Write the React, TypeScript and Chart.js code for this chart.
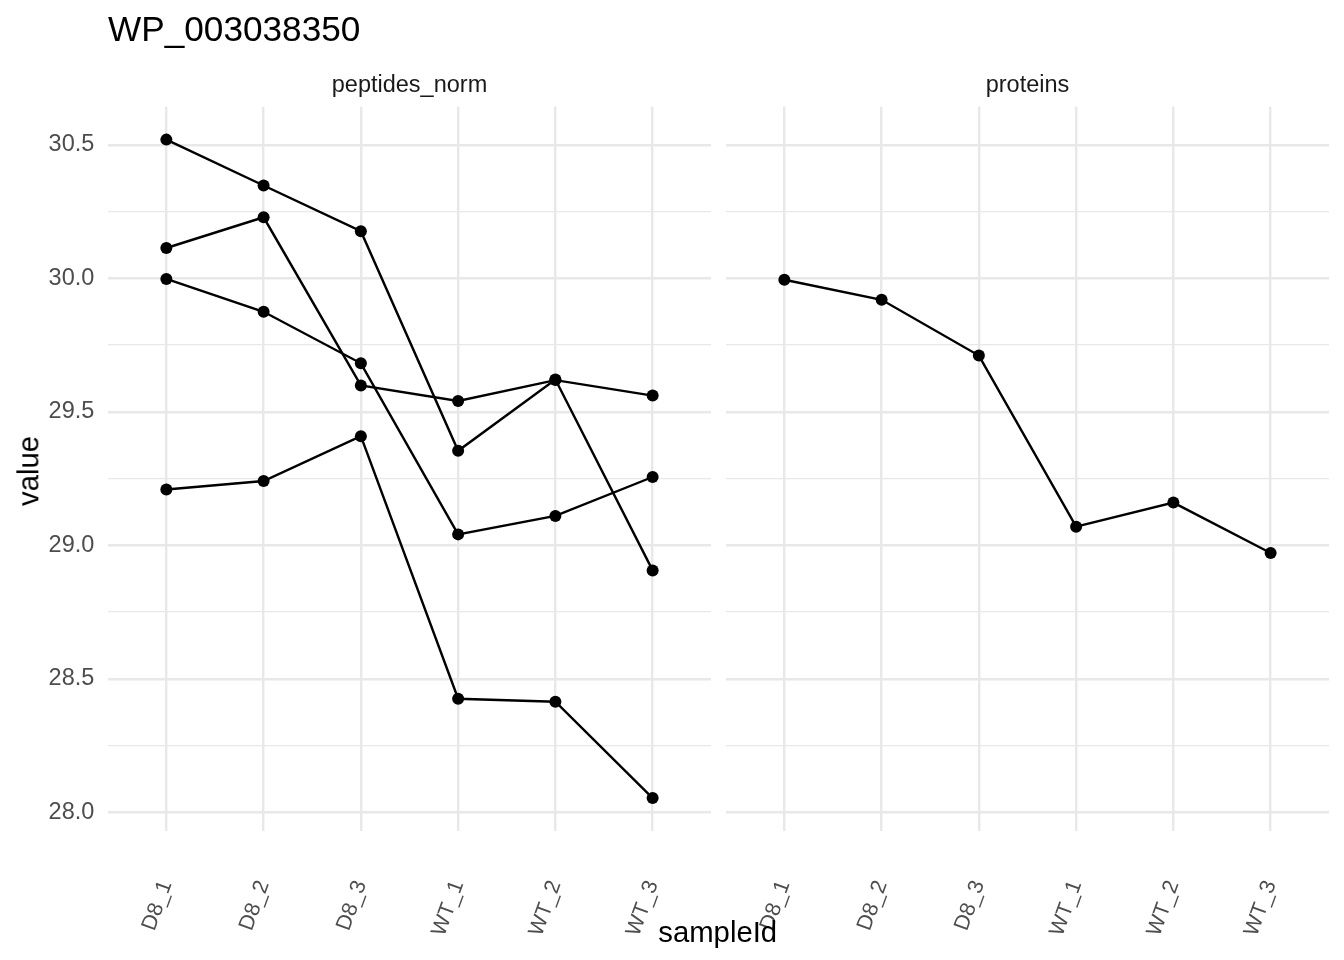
import React, { useEffect, useRef } from "react";
import { Chart, registerables } from "chart.js";

Chart.register(...registerables);

const FONT = "'Liberation Sans', Arial, Helvetica, sans-serif";

const plotTitle = "WP_003038350";
const panelNames = ["peptides_norm", "proteins"];
const samples = ["D8_1", "D8_2", "D8_3", "WT_1", "WT_2", "WT_3"];

// peptides_norm panel: four peptide traces
const peptideA = [30.52, 30.348, 30.177, 29.354, 29.621, 28.906];
const peptideB = [30.114, 30.229, 29.599, 29.541, 29.619, 29.561];
const peptideC = [29.998, 29.875, 29.682, 29.041, 29.11, 29.256];
const peptideD = [29.209, 29.241, 29.409, 28.425, 28.414, 28.053];

// proteins panel
const proteinValues = [29.995, 29.92, 29.711, 29.07, 29.16, 28.971];

const yTickValues = [28, 28.25, 28.5, 28.75, 29, 29.25, 29.5, 29.75, 30, 30.25, 30.5];
const yAxisTitle = "value";
const xAxisTitle = "sampleId";

const allValues = [...peptideA, ...peptideB, ...peptideC, ...peptideD, ...proteinValues];
const dataMin = Math.min(...allValues);
const dataMax = Math.max(...allValues);
const yPad = (dataMax - dataMin) * 0.05;
const Y_MIN = dataMin - yPad;
const Y_MAX = dataMax + yPad;

const isMajor = (v: number) => Math.abs(v * 2 - Math.round(v * 2)) < 1e-6;

function makeConfig(series: number[][], showY: boolean, yWidth: number, rightPad: number): any {
  return {
    type: "line",
    data: {
      datasets: series.map((vals) => ({
        data: vals.map((v, i) => ({ x: i, y: v })),
        borderColor: "#000000",
        backgroundColor: "#000000",
        borderWidth: 2.4,
        pointRadius: 6,
        pointHoverRadius: 6,
        pointBorderWidth: 0,
        pointBackgroundColor: "#000000",
        tension: 0,
        fill: false,
      })),
    },
    options: {
      animation: false,
      responsive: false,
      maintainAspectRatio: false,
      events: [],
      layout: { padding: { top: 106.7, right: rightPad, left: 0, bottom: 0 } },
      plugins: {
        legend: { display: false },
        tooltip: { enabled: false },
        title: { display: false },
      },
      scales: {
        x: {
          type: "linear",
          min: -0.6,
          max: samples.length - 0.4,
          afterBuildTicks: (s: any) => {
            s.ticks = samples.map((_, i) => ({ value: i }));
          },
          afterFit: (s: any) => {
            s.height = 129;
            s.paddingLeft = 0;
            s.paddingRight = 0;
          },
          grid: { color: "#E8E8E8", lineWidth: 2.4, drawTicks: false },
          border: { display: false },
          ticks: {
            autoSkip: false,
            minRotation: 70,
            maxRotation: 70,
            padding: 46,
            color: "#4D4D4D",
            font: { family: FONT, size: 21.5 },
            callback: (v: number) => samples[Math.round(v)],
          },
        },
        y: {
          type: "linear",
          min: Y_MIN,
          max: Y_MAX,
          afterBuildTicks: (s: any) => {
            s.ticks = yTickValues.map((v) => ({ value: v }));
          },
          afterFit: (s: any) => {
            s.width = yWidth;
            s.paddingTop = 0;
            s.paddingBottom = 0;
          },
          grid: {
            color: "#E8E8E8",
            lineWidth: (ctx: any) => (ctx.tick && !isMajor(ctx.tick.value) ? 1.3 : 2.4),
            drawTicks: false,
          },
          border: { display: false },
          ticks: {
            display: showY,
            padding: 13.7,
            color: "#4D4D4D",
            font: { family: FONT, size: 23.5 },
            callback: (v: number) => (isMajor(v) ? v.toFixed(1) : ""),
          },
        },
      },
    },
  };
}

function Panel(props: {
  series: number[][];
  left: number;
  width: number;
  yWidth: number;
  rightPad: number;
  showY: boolean;
}) {
  const ref = useRef<HTMLCanvasElement>(null);
  useEffect(() => {
    if (!ref.current) return;
    const chart = new Chart(
      ref.current,
      makeConfig(props.series, props.showY, props.yWidth, props.rightPad)
    );
    return () => chart.destroy();
  }, []);
  return (
    <canvas
      ref={ref}
      width={props.width}
      height={960}
      style={{ position: "absolute", left: props.left, top: 0, width: props.width, height: 960 }}
    />
  );
}

export default function App() {
  const text: React.CSSProperties = { position: "absolute", whiteSpace: "nowrap", fontFamily: FONT };
  return (
    <div
      style={{
        position: "absolute",
        left: 0,
        top: 0,
        width: 1344,
        height: 960,
        background: "#ffffff",
        overflow: "hidden",
        fontFamily: FONT,
      }}
    >
      <Panel
        series={[peptideA, peptideB, peptideC, peptideD]}
        left={0}
        width={718}
        yWidth={108}
        rightPad={7}
        showY={true}
      />
      <Panel series={[proteinValues]} left={718} width={626} yWidth={8} rightPad={15} showY={false} />

      <div style={{ ...text, left: 108, top: 10.9, fontSize: 35.2, lineHeight: "35.2px", color: "#000" }}>
        {plotTitle}
      </div>
      <div
        style={{
          ...text,
          left: 108,
          width: 603,
          top: 73.4,
          fontSize: 23.5,
          lineHeight: "23.5px",
          textAlign: "center",
          color: "#1A1A1A",
        }}
      >
        {panelNames[0]}
      </div>
      <div
        style={{
          ...text,
          left: 726,
          width: 603,
          top: 73.4,
          fontSize: 23.5,
          lineHeight: "23.5px",
          textAlign: "center",
          color: "#1A1A1A",
        }}
      >
        {panelNames[1]}
      </div>
      <div
        style={{
          ...text,
          left: 27.85,
          top: 471,
          fontSize: 29.3,
          lineHeight: "29.3px",
          color: "#000",
          transform: "translate(-50%, -50%) rotate(-90deg)",
        }}
      >
        {yAxisTitle}
      </div>
      <div
        style={{
          ...text,
          left: 717.7,
          top: 916.7,
          fontSize: 29.3,
          lineHeight: "29.3px",
          color: "#000",
          transform: "translateX(-50%)",
        }}
      >
        {xAxisTitle}
      </div>
    </div>
  );
}
